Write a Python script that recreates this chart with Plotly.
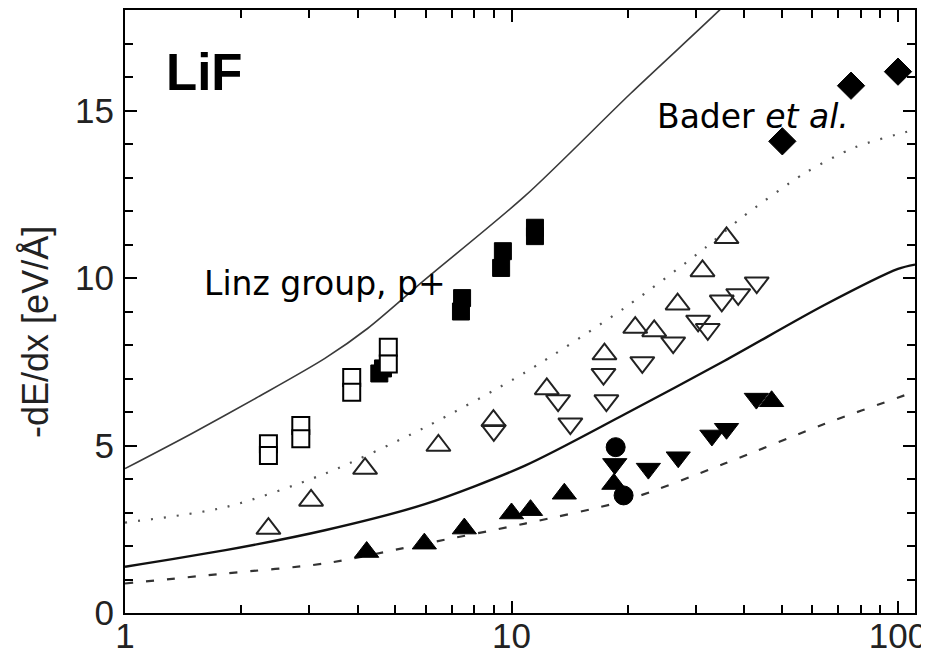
import plotly.graph_objects as go

# ---------------- data ----------------
# theory curves
upper_x = [1.0, 1.49, 2.21, 3.29, 4.25, 5.97, 10.84, 20.3, 34.2, 37.0]
upper_y = [4.31, 5.36, 6.45, 7.60, 8.50, 9.95, 12.45, 15.50, 17.95, 18.35]

lower_x = [1.0, 1.82, 3.29, 5.97, 10.84, 19.68, 35.6, 64.7, 100.0, 110.7]
lower_y = [1.38, 1.875, 2.47, 3.25, 4.40, 5.94, 7.53, 9.20, 10.27, 10.40]

dotted_x = [1.0, 1.82, 3.29, 5.97, 10.84, 19.68, 31.7, 39.4, 57.4, 77.4, 104.2, 110.7]
dotted_y = [2.70, 3.16, 4.16, 5.54, 7.18, 9.12, 10.90, 11.80, 13.13, 13.90, 14.35, 14.42]

dashed_x = [1.0, 1.82, 3.29, 5.97, 10.84, 19.68, 35.6, 64.7, 106.4, 110.7]
dashed_y = [0.88, 1.18, 1.48, 2.07, 2.67, 3.36, 4.46, 5.65, 6.54, 6.62]

# experimental data
open_sq_x = [2.35, 2.35, 2.85, 2.85, 3.86, 3.86, 4.80, 4.80]
open_sq_y = [5.05, 4.70, 5.60, 5.20, 7.03, 6.59, 7.93, 7.43]

fill_sq_x = [4.55, 4.65, 7.40, 7.45, 9.40, 9.50, 11.5, 11.5]
fill_sq_y = [7.15, 7.30, 9.00, 9.40, 10.30, 10.80, 11.25, 11.50]

open_up_x = [2.35, 3.03, 4.18, 6.47, 8.98, 12.34, 17.4, 20.9, 23.4, 26.9, 31.2, 36.0]
open_up_y = [2.52, 3.36, 4.31, 5.00, 5.74, 6.69, 7.73, 8.52, 8.42, 9.22, 10.21, 11.20]

open_dn_x = [9.0, 13.2, 14.2, 17.3, 17.6, 21.8, 26.2, 30.4, 32.2, 35.0, 38.6, 43.1]
open_dn_y = [5.45, 6.34, 5.65, 7.13, 6.34, 7.48, 8.07, 8.72, 8.47, 9.32, 9.51, 9.86]

fill_up_x = [4.22, 5.95, 7.55, 10.0, 11.2, 13.7, 18.4, 47.1]
fill_up_y = [1.82, 2.07, 2.52, 2.97, 3.07, 3.56, 3.85, 6.32]

fill_dn_x = [18.5, 22.6, 27.0, 33.0, 36.0, 43.0]
fill_dn_y = [4.45, 4.31, 4.65, 5.30, 5.50, 6.40]

circle_x = [18.6, 19.5]
circle_y = [4.95, 3.51]

diamond_x = [50.2, 75.6, 100.0]
diamond_y = [14.08, 15.74, 16.16]

# axes
x_major = [1, 10, 100]
x_labels = ["1", "10", "100"]
x_minor = [2, 3, 4, 5, 6, 7, 8, 9, 20, 30, 40, 50, 60, 70, 80, 90]
y_major = [0, 5, 10, 15]
y_labels = ["0", "5", "10", "15"]

# ---------------- figure ----------------
fig = go.Figure()

fig.add_trace(go.Scatter(x=upper_x, y=upper_y, mode="lines",
                         line=dict(color="#3a3a3a", width=1.6, shape="spline", smoothing=0.8)))
fig.add_trace(go.Scatter(x=lower_x, y=lower_y, mode="lines",
                         line=dict(color="#111111", width=2.4, shape="spline", smoothing=0.8)))
fig.add_trace(go.Scatter(x=dotted_x, y=dotted_y, mode="lines",
                         line=dict(color="#555555", width=2.2, dash="2px,11px", shape="spline", smoothing=0.8)))
fig.add_trace(go.Scatter(x=dashed_x, y=dashed_y, mode="lines",
                         line=dict(color="#333333", width=2.2, dash="8px,13px", shape="spline", smoothing=0.8)))

fig.add_trace(go.Scatter(x=fill_sq_x, y=fill_sq_y, mode="markers",
                         marker=dict(symbol="square", size=17, color="black",
                                     line=dict(color="black", width=1))))
fig.add_trace(go.Scatter(x=open_sq_x, y=open_sq_y, mode="markers",
                         marker=dict(symbol="square", size=17, color="white",
                                     line=dict(color="black", width=2))))
fig.add_trace(go.Scatter(x=open_up_x, y=open_up_y, mode="markers",
                         marker=dict(symbol="triangle-up-open", size=21, color="#222",
                                     line=dict(color="#222", width=2))))
fig.add_trace(go.Scatter(x=open_dn_x, y=open_dn_y, mode="markers",
                         marker=dict(symbol="triangle-down-open", size=21, color="#222",
                                     line=dict(color="#222", width=2))))
fig.add_trace(go.Scatter(x=fill_up_x, y=fill_up_y, mode="markers",
                         marker=dict(symbol="triangle-up", size=21, color="black",
                                     line=dict(color="black", width=1))))
fig.add_trace(go.Scatter(x=fill_dn_x, y=fill_dn_y, mode="markers",
                         marker=dict(symbol="triangle-down", size=21, color="black",
                                     line=dict(color="black", width=1))))
fig.add_trace(go.Scatter(x=circle_x, y=circle_y, mode="markers",
                         marker=dict(symbol="circle", size=19, color="black",
                                     line=dict(color="black", width=1))))
fig.add_trace(go.Scatter(x=diamond_x, y=diamond_y, mode="markers",
                         marker=dict(symbol="diamond", size=21, color="black",
                                     line=dict(color="black", width=1))))

tick_font = dict(family="Liberation Sans, Arial, sans-serif", size=35, color="#222222")

fig.update_xaxes(type="log", range=[0, 2.044], automargin=False,
                 tickmode="array", tickvals=x_major, ticktext=x_labels,
                 ticks="inside", ticklen=12, tickwidth=2, tickcolor="black",
                 ticklabelstandoff=-9,
                 showline=True, linecolor="black", linewidth=2, mirror="ticks",
                 showgrid=False, zeroline=False, tickfont=tick_font,
                 minor=dict(tickmode="array", tickvals=x_minor, ticks="inside",
                            ticklen=8, tickwidth=1.5, tickcolor="black", showgrid=False))
fig.update_yaxes(range=[0, 18], automargin=False,
                 tickmode="array", tickvals=y_major, ticktext=y_labels,
                 ticks="inside", ticklen=12, tickwidth=2, tickcolor="black",
                 ticklabelstandoff=2,
                 showline=True, linecolor="black", linewidth=2, mirror="ticks",
                 showgrid=False, zeroline=False, tickfont=tick_font,
                 minor=dict(dtick=1, ticks="inside", ticklen=8, tickwidth=1.5,
                            tickcolor="black", showgrid=False))

# the page places the figure 8px from the top-left corner of the window
fig.update_layout(
    width=921, height=648,
    margin=dict(l=117, r=14, t=2, b=43, autoexpand=False),
    plot_bgcolor="white", paper_bgcolor="white",
    showlegend=False,
    annotations=[
        dict(text="<b>LiF</b>", xref="paper", yref="paper", x=0.049, y=0.896,
             xanchor="left", yanchor="middle", showarrow=False,
             font=dict(family="Liberation Sans, Arial, sans-serif", size=51, color="black")),
        dict(text="Linz group, p+", xref="paper", yref="paper", x=0.098, y=0.547,
             xanchor="left", yanchor="middle", showarrow=False,
             font=dict(family="DejaVu Sans, sans-serif", size=33, color="black")),
        dict(text="Bader <i>et al.</i>", xref="paper", yref="paper", x=0.671, y=0.824,
             xanchor="left", yanchor="middle", showarrow=False,
             font=dict(family="DejaVu Sans, sans-serif", size=33, color="black")),
        dict(text="-dE/dx [eV/Å]", xref="paper", yref="paper", x=-0.114, y=0.466,
             xanchor="center", yanchor="middle", textangle=-90, showarrow=False,
             font=dict(family="Liberation Sans, Arial, sans-serif", size=36, color="#222222")),
    ],
)

fig.write_html("out.html")
